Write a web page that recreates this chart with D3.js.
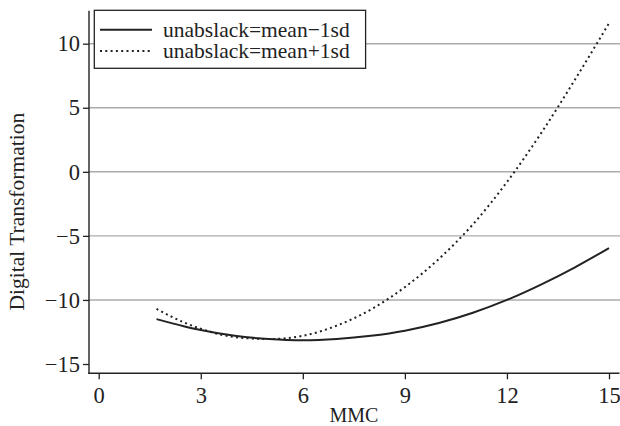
<!DOCTYPE html>
<html>
<head>
<meta charset="utf-8">
<script src="https://cdn.jsdelivr.net/npm/d3@7/dist/d3.min.js"></script>
</head>
<body style="margin:0;padding:0;background:#fff">
<svg id="chart" width="620" height="426" style="display:block"></svg>
<script>
// ---- data ----
const mmc = [1.7, 2.5, 3, 4, 5, 6, 7, 8, 9, 10, 11, 12, 13, 14, 15];
const lowSlack  = [-11.5, -12.05, -12.35, -12.8, -13.05, -13.15, -13.05, -12.8, -12.4, -11.8, -11.0, -10.0, -8.8, -7.45, -5.95];
const highSlack = [-10.7, -11.75, -12.25, -12.9, -13.05, -12.8, -12.0, -10.75, -9.0, -6.8, -4.1, -0.8, 3.0, 7.2, 11.6];
const seriesNames = ["unabslack=mean\u22121sd", "unabslack=mean+1sd"];
const xTicks = [0, 3, 6, 9, 12, 15];
const yTicks = [-15, -10, -5, 0, 5, 10];
const gridTicks = [-10, -5, 0, 5, 10];
const xTitle = "MMC";
const yTitle = "Digital Transformation";

// ---- layout ----
const FONT = '"Liberation Serif", "Times New Roman", serif';
const svg = d3.select("#chart");
const plot = { left: 89, right: 619.5, top: 10.7, bottom: 373.3 };
const x = d3.scaleLinear().domain([0, 15]).range([98.7, 609]);
const y = d3.scaleLinear().domain([-15, 10]).range([364, 43.7]);
const ink = "#222";

// gridlines
svg.append("g").selectAll("line").data(gridTicks).join("line")
  .attr("x1", plot.left).attr("x2", 620)
  .attr("y1", d => y(d)).attr("y2", d => y(d))
  .attr("stroke", "#ababab").attr("stroke-width", 1.4);

// axes
const fsTick = 22.5;
const yAxis = d3.axisLeft(y).tickValues(yTicks).tickSize(6).tickPadding(3)
  .tickFormat(d => d < 0 ? "\u2212" + Math.abs(d) : d);
const gy = svg.append("g").attr("transform", `translate(${plot.left},0)`).call(yAxis);
gy.attr("font-family", null);
gy.select(".domain").remove();
gy.selectAll(".tick line").attr("stroke", ink).attr("stroke-width", 1.3);
gy.selectAll(".tick text").style("font-size", fsTick + "px").style("font-family", FONT).attr("fill", ink);

const xAxis = d3.axisBottom(x).tickValues(xTicks).tickSize(6).tickPadding(7.5);
const gx = svg.append("g").attr("transform", `translate(0,${plot.bottom})`).call(xAxis);
gx.attr("font-family", null);
gx.select(".domain").remove();
gx.selectAll(".tick line").attr("stroke", ink).attr("stroke-width", 1.3);
gx.selectAll(".tick text").style("font-size", fsTick + "px").style("font-family", FONT).attr("fill", ink);

// axis lines
svg.append("line").attr("x1", plot.left).attr("x2", plot.left)
  .attr("y1", plot.top).attr("y2", plot.bottom + 0.65)
  .attr("stroke", ink).attr("stroke-width", 1.4);
svg.append("line").attr("x1", plot.left - 0.7).attr("x2", plot.right)
  .attr("y1", plot.bottom).attr("y2", plot.bottom)
  .attr("stroke", ink).attr("stroke-width", 1.4);

// titles
svg.append("text").attr("x", (x(0) + x(15)) / 2).attr("y", 421.5)
  .attr("text-anchor", "middle").attr("fill", ink)
  .style("font-family", FONT).style("font-size", "20px").text(xTitle);
svg.append("text").attr("transform", `translate(24,${211.7}) rotate(-90)`)
  .attr("text-anchor", "middle").attr("fill", ink)
  .style("font-family", FONT).style("font-size", "21.5px").text(yTitle);

// lines
const line = d3.line().x((d, i) => x(mmc[i])).y(d => y(d)).curve(d3.curveMonotoneX);
svg.append("path").datum(highSlack).attr("d", line)
  .attr("fill", "none").attr("stroke", ink).attr("stroke-width", 2)
  .attr("stroke-dasharray", "2 3.3");
svg.append("path").datum(lowSlack).attr("d", line)
  .attr("fill", "none").attr("stroke", ink).attr("stroke-width", 2);

// legend
const lg = svg.append("g");
lg.append("rect").attr("x", 94.3).attr("y", 10.3).attr("width", 271.3).attr("height", 58)
  .attr("fill", "#fff").attr("stroke", ink).attr("stroke-width", 1.3);
const rows = [29.8, 50.9];
seriesNames.forEach((name, i) => {
  lg.append("line").attr("x1", 100).attr("x2", 152).attr("y1", rows[i]).attr("y2", rows[i])
    .attr("stroke", ink).attr("stroke-width", 2)
    .attr("stroke-dasharray", i === 1 ? "2 3.3" : null);
  lg.append("text").attr("x", 163).attr("y", rows[i]).attr("dy", "0.33em").attr("fill", ink)
    .style("font-family", FONT).style("font-size", "21.5px").text(name);
});
</script>
</body>
</html>
